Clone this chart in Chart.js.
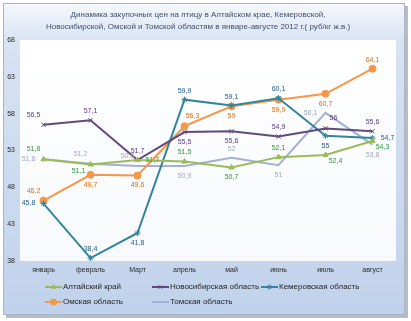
<!DOCTYPE html>
<html>
<head>
<meta charset="utf-8">
<script src="https://cdn.jsdelivr.net/npm/chart.js@4/dist/chart.umd.min.js"></script>
<style>
  body { margin: 0; background: #fff; }
  #wrap { width: 411px; height: 321px; }
</style>
</head>
<body>
<div id="wrap"><canvas id="price_chart" width="411" height="321"></canvas></div>
<script>
// data
const months = ['январь', 'февраль', 'Март', 'апрель', 'май', 'июнь', 'июль', 'август'];
const altai = [51.8, 51.1, 51.7, 51.5, 50.7, 52.1, 52.4, 54.3];
const novosib = [56.5, 57.1, 51.7, 55.5, 55.6, 54.9, 56, 55.6];
const kemerovo = [45.8, 38.4, 41.8, 59.9, 59.1, 60.1, 55, 54.7];
const omsk = [46.2, 49.7, 49.6, 56.3, 59, 59.9, 60.7, 64.1];
const tomsk = [51.8, 51.2, 50.9, 50.9, 52, 51, 58.1, 53.8];
const yTicks = [38, 43, 48, 53, 58, 63, 68];

// where each value label sits relative to its point
const altaiLbl = ['al', 'bl', 'r', 'a', 'b', 'a', 'br', 'br'];
const novosibLbl = ['al', 'a', 'a', 'b', 'b', 'a', 'ar', 'a'];
const kemerovoLbl = ['l', 'a', 'b', 'a', 'a', 'a', 'b', 'r'];
const omskLbl = ['al', 'b', 'b', 'ar', 'b', 'b', 'b', 'a'];
const tomskLbl = ['l', 'al', 'al', 'b', 'a', 'b', 'l', 'b'];

const FONT = 'Liberation Sans';

const offsets = {
    a: [0, -9], b: [0, 10], l: [-15, 0], r: [15, 0],
    al: [-10, -10], ar: [8, -10], bl: [-12, 7], br: [10, 6]
};

const bgPlugin = {
    id: 'bgPlugin',
    beforeDraw(chart) {
        const ctx = chart.ctx;
        const a = chart.chartArea;
        ctx.save();
        // shadow of frame
        ctx.fillStyle = '#b9bcc2';
        ctx.fillRect(6, 6, 402, 312);
        const g = ctx.createLinearGradient(0, 3, 0, 315);
        g.addColorStop(0, '#f6f8fc');
        g.addColorStop(0.12, '#d8e3f3');
        g.addColorStop(1, '#c0d2eb');
        ctx.fillStyle = g;
        ctx.fillRect(3, 3, 402, 312);
        ctx.strokeStyle = '#a9b4c6';
        ctx.lineWidth = 1;
        ctx.strokeRect(3.5, 3.5, 401, 311);
        const g2 = ctx.createLinearGradient(0, a.top, 0, a.bottom);
        g2.addColorStop(0, '#ffffff');
        g2.addColorStop(1, '#f7f9fc');
        ctx.fillStyle = g2;
        ctx.fillRect(a.left, a.top, a.right - a.left, a.bottom - a.top);
        ctx.restore();
    }
};

const labelPlugin = {
    id: 'labelPlugin',
    afterDatasetsDraw(chart) {
        const ctx = chart.ctx;
        ctx.save();
        ctx.font = '7px "' + FONT + '"';
        ctx.textAlign = 'center';
        ctx.textBaseline = 'middle';
        chart.data.datasets.forEach((ds, i) => {
            const meta = chart.getDatasetMeta(i);
            ctx.fillStyle = ds.labelColor;
            meta.data.forEach((pt, j) => {
                const off = offsets[ds.labelPos[j]];
                const txt = String(ds.data[j]).replace('.', ',');
                ctx.fillText(txt, pt.x + off[0], pt.y + off[1]);
            });
        });
        ctx.restore();
    }
};

const legendPlugin = {
    id: 'legendPlugin',
    afterDraw(chart) {
        const ctx = chart.ctx;
        const slots = [[45, 287], [152, 287], [261, 287], [45, 302], [152, 302]];
        ctx.save();
        chart.data.datasets.forEach((ds, i) => {
            const [x, y] = slots[i];
            ctx.strokeStyle = ds.borderColor;
            ctx.lineWidth = 2;
            ctx.beginPath();
            ctx.moveTo(x, y);
            ctx.lineTo(x + 17, y);
            ctx.stroke();
            if (ds.pointRadius > 0) {
                ctx.fillStyle = ds.pointBackgroundColor;
                ctx.strokeStyle = ds.borderColor;
                ctx.lineWidth = 1;
                Chart.helpers.drawPoint(ctx, {
                    pointStyle: ds.pointStyle,
                    radius: ds.pointRadius - 0.5,
                    borderWidth: 1
                }, x + 8.5, y);
            }
            ctx.fillStyle = '#1e1e1e';
            ctx.font = '8px "' + FONT + '"';
            ctx.textAlign = 'left';
            ctx.textBaseline = 'middle';
            ctx.fillText(ds.label, x + 18, y);
        });
        ctx.restore();
    }
};

function series(label, data, color, labelColor, labelPos, pointStyle, radius) {
    return {
        label: label,
        data: data,
        borderColor: color,
        backgroundColor: color,
        pointBackgroundColor: color,
        pointBorderColor: color,
        pointBorderWidth: 1,
        pointStyle: pointStyle,
        pointRadius: radius,
        borderWidth: 2,
        tension: 0,
        labelColor: labelColor,
        labelPos: labelPos
    };
}

const ctx_price = document.getElementById('price_chart').getContext('2d');
const price_chart = new Chart(ctx_price, {
    type: 'line',
    data: {
        labels: months,
        datasets: [
            series('Алтайский край', altai, '#9bbb59', '#2f9a45', altaiLbl, 'triangle', 3),
            series('Новосибирская область', novosib, '#604a7b', '#5b3b8c', novosibLbl, 'crossRot', 3),
            series('Кемеровская область', kemerovo, '#31859c', '#1f5d8c', kemerovoLbl, 'star', 3),
            series('Омская область', omsk, '#f79646', '#e46c0a', omskLbl, 'circle', 3.5),
            series('Томская область', tomsk, '#a3b0d2', '#a2abc6', tomskLbl, 'circle', 0)
        ]
    },
    options: {
        responsive: false,
        animation: false,
        layout: { padding: { left: 0, right: 15, top: 0, bottom: 45 } },
        plugins: {
            legend: { display: false },
            tooltip: { enabled: false },
            title: {
                display: true,
                text: [
                    'Динамика закупочных цен на птицу в Алтайском крае, Кемеровской,',
                    'Новосибирской, Омской и Томской областям в январе-августе 2012 г.( руб/кг ж.в.)'
                ],
                color: '#3f4f6e',
                font: { family: FONT, size: 8, weight: 'normal', lineHeight: 1.6 },
                padding: { top: 8, bottom: 6.4 }
            }
        },
        scales: {
            x: {
                offset: true,
                grid: { display: false, tickLength: 0 },
                border: { display: false },
                ticks: { color: '#2a2a2a', font: { family: FONT, size: 7 }, padding: 5, maxRotation: 0 },
                afterFit(scale) { scale.height = 15; }
            },
            y: {
                min: 38,
                max: 68,
                afterBuildTicks(scale) { scale.ticks = yTicks.map(v => ({ value: v })); },
                grid: { display: false, tickLength: 0 },
                border: { display: false },
                ticks: { color: '#2a2a2a', font: { family: FONT, size: 7 }, padding: 5 },
                afterFit(scale) { scale.width = 20; }
            }
        }
    },
    plugins: [bgPlugin, labelPlugin, legendPlugin]
});
</script>
</body>
</html>
